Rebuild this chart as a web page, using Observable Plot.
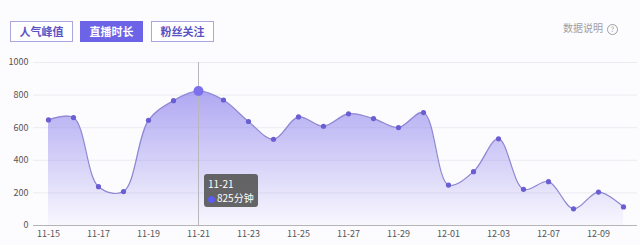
<!DOCTYPE html>
<html><head><meta charset="utf-8">
<script src="https://cdn.jsdelivr.net/npm/d3@7"></script>
<script src="https://cdn.jsdelivr.net/npm/@observablehq/plot@0.6"></script>
<style>
html,body{margin:0;padding:0;background:#fcfbfe;width:640px;height:245px;overflow:hidden;font-family:"Noto Sans CJK SC","Noto Sans",sans-serif;}
.btn{position:absolute;top:21px;height:19px;width:61px;border:1px solid #aaa6e2;color:#5a52c2;font-size:11px;font-weight:bold;line-height:19px;text-align:center;box-sizing:content-box;background:#fff;}
.btn.on{background:#6c63e6;border-color:#6c63e6;color:#fff;}
#note{position:absolute;left:563px;top:20px;font-size:10px;color:#a0a0a0;}
#note span{display:inline-block;width:9px;height:9px;border:1px solid #a0a0a0;border-radius:50%;font-size:7px;line-height:9px;text-align:center;margin-left:4px;vertical-align:middle;}
#chart{position:absolute;left:0;top:50px;}
#tip{position:absolute;background:rgba(85,85,85,0.9);color:#fff;border-radius:3px;font-size:10px;line-height:14px;padding:3px 4px 2px 4px;white-space:nowrap;}
#tip i{display:inline-block;width:7px;height:7px;border-radius:50%;background:#5b5cf0;margin-right:2px;vertical-align:middle;}
</style></head>
<body>
<div class="btn" style="left:10px">人气峰值</div>
<div class="btn on" style="left:80px">直播时长</div>
<div class="btn" style="left:151px">粉丝关注</div>
<div id="note">数据说明<span>?</span></div>
<div id="chart"></div>
<div id="tip"></div>
<script>
const dates = ["11-15","11-16","11-17","11-18","11-19","11-20","11-21","11-22","11-23","11-24","11-25","11-26","11-27","11-28","11-29","11-30","12-01","12-02","12-03","12-05","12-07","12-08","12-09","12-10"];
const minutes = [648,662,238,208,645,766,825,770,638,529,666,609,685,656,601,693,248,330,532,222,269,102,205,114];
const yTicks = [0,200,400,600,800,1000];
const xTicks = dates.filter((d,i)=>i%2===0);
const active = "11-21";
const unit = "分钟";

const data = dates.map((d,i)=>({date:d, value:minutes[i]}));
const activeRow = data.find(d=>d.date===active);

const plot = Plot.plot({
  width: 640, height: 195,
  marginLeft: 33, marginRight: 3, marginTop: 12, marginBottom: 20,
  style: {background:"transparent", fontFamily:"'Noto Sans CJK SC', sans-serif", fontSize:"9px", color:"#555"},
  x: {type:"point", domain: dates, padding:0.5, ticks: xTicks, tickSize:0, tickPadding:5, label:null},
  y: {domain:[0,1000], ticks: yTicks, tickFormat: d=>String(d), tickSize:0, tickPadding:5, label:null},
  marks: [
    Plot.gridY(yTicks, {stroke:"#ececf0", strokeOpacity:1}),
    Plot.areaY(data, {x:"date", y:"value", curve:"catmull-rom", fill:"url(#grad)"}),
    Plot.ruleY([0], {stroke:"#b5b5b8"}),
    Plot.ruleX([active], {y1:0, y2:1000, stroke:"#b8b8bc", strokeWidth:1}),
    Plot.lineY(data, {x:"date", y:"value", curve:"catmull-rom", stroke:"#8e87d2", strokeWidth:1.2}),
    Plot.dot(data, {x:"date", y:"value", r:2.6, fill:"#6a5fd2", stroke:"none"}),
    Plot.dot([activeRow], {x:"date", y:"value", r:5, fill:"#7c70ec", stroke:"none"})
  ]
});
const svg = d3.select(plot);
const defs = svg.insert("defs", ":first-child");
const g = defs.append("linearGradient").attr("id","grad").attr("x1",0).attr("y1",0).attr("x2",0).attr("y2",1);
g.append("stop").attr("offset","0%").attr("stop-color","#7b70ea").attr("stop-opacity",0.6);
g.append("stop").attr("offset","100%").attr("stop-color","#7b70ea").attr("stop-opacity",0.03);
document.getElementById("chart").appendChild(plot);

const xs = plot.scale("x"), ys = plot.scale("y");
const tip = document.getElementById("tip");
tip.innerHTML = active + "<br><i></i>" + activeRow.value + unit;
tip.style.left = (xs.apply(active) + 6) + "px";
tip.style.top = (50 + ys.apply(200) - 18) + "px";
</script>
</body></html>
